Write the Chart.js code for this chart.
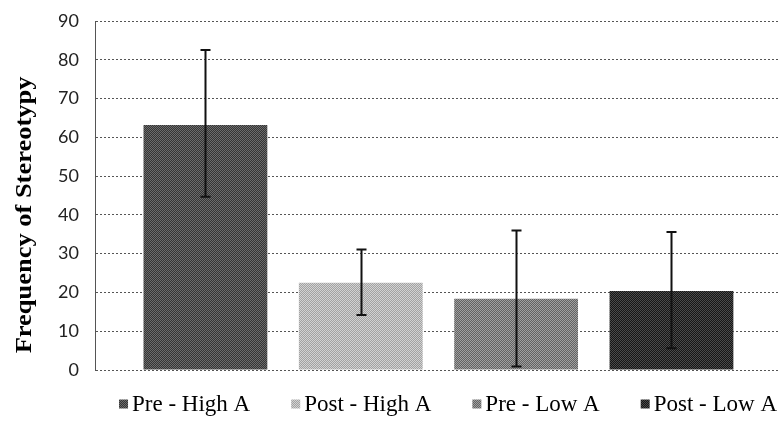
<!DOCTYPE html>
<html>
<head>
<meta charset="utf-8">
<script src="https://cdn.jsdelivr.net/npm/chart.js@4/dist/chart.umd.min.js"></script>
<style>
    html, body { margin: 0; padding: 0; background: #fff; overflow: hidden; }
    #wrap { width: 784px; height: 422px; }
</style>
</head>
<body>
<div id="wrap"><canvas id="barChart" width="784" height="422"></canvas></div>
<script>
const groups = ["Pre - High A", "Post - High A", "Pre - Low A", "Post - Low A"];
const means = [63.2, 22.5, 18.4, 20.4];
const errLow = [44.7, 14.2, 0.9, 5.6];
const errHigh = [82.5, 31.1, 36.0, 35.6];
const yTicks = { min: 0, max: 90, step: 10 };
const yTitle = "Frequency of Stereotypy";

// two-tone checker fill, gives the bars their screened look
function makePattern(dark, light) {
    const c = document.createElement("canvas");
    c.width = 2;
    c.height = 2;
    const g = c.getContext("2d");
    g.fillStyle = dark;
    g.fillRect(0, 0, 2, 2);
    g.fillStyle = light;
    g.fillRect(0, 0, 1, 1);
    g.fillRect(1, 1, 1, 1);
    return g.createPattern(c, "repeat");
}

const fills = [
    makePattern("#353535", "#6c6c6c"),
    makePattern("#a2a2a2", "#d2d2d2"),
    makePattern("#626262", "#a0a0a0"),
    makePattern("#161616", "#4a4a4a")
];

const errorBars = {
    id: "errorBars",
    afterDatasetsDraw(chart) {
        const ctx = chart.ctx;
        const y = chart.scales.y;
        ctx.save();
        ctx.strokeStyle = "#111";
        ctx.lineWidth = 2;
        chart.data.datasets.forEach((ds, i) => {
            const bar = chart.getDatasetMeta(i).data[0];
            const x = Math.round(bar.x) + 0.5;
            const top = y.getPixelForValue(errHigh[i]);
            const bot = y.getPixelForValue(errLow[i]);
            ctx.beginPath();
            ctx.moveTo(x, top);
            ctx.lineTo(x, bot);
            ctx.moveTo(x - 5, top);
            ctx.lineTo(x + 5, top);
            ctx.moveTo(x - 5, bot);
            ctx.lineTo(x + 5, bot);
            ctx.stroke();
        });
        ctx.restore();
    }
};

// vertical axis title, a bit wider-set than the stock title
const axisTitle = {
    id: "axisTitle",
    afterDraw(chart) {
        const ctx = chart.ctx;
        ctx.save();
        ctx.translate(25, 215);
        ctx.rotate(-Math.PI / 2);
        ctx.scale(1.15, 1);
        ctx.font = "bold 23px 'Liberation Serif'";
        ctx.fillStyle = "#000";
        ctx.textAlign = "center";
        ctx.textBaseline = "middle";
        ctx.fillText(yTitle, 0, 0);
        ctx.restore();
    }
};

// legend row under the plot, right aligned
const bottomLegend = {
    id: "bottomLegend",
    afterDraw(chart) {
        const ctx = chart.ctx;
        const box = 9, textGap = 13, itemGap = 41;
        const cy = chart.chartArea.bottom + 34;
        ctx.save();
        ctx.font = "23px 'Liberation Serif'";
        ctx.textBaseline = "middle";
        const widths = groups.map(t => ctx.measureText(t).width);
        const total = widths.reduce((s, w) => s + textGap + w, 0) + itemGap * (groups.length - 1);
        let x = chart.width - 7 - total;
        groups.forEach((t, i) => {
            ctx.fillStyle = fills[i];
            ctx.fillRect(x, cy - box / 2, box, box);
            ctx.fillStyle = "#000";
            ctx.fillText(t, x + textGap, cy + 1);
            x += textGap + widths[i] + itemGap;
        });
        ctx.restore();
    }
};

new Chart(document.getElementById("barChart"), {
    type: "bar",
    data: {
        labels: [""],
        datasets: groups.map((name, i) => ({
            label: name,
            data: [means[i]],
            backgroundColor: fills[i],
            borderWidth: 0,
            categoryPercentage: 0.907,
            barPercentage: 0.797
        }))
    },
    options: {
        responsive: false,
        animation: false,
        layout: { padding: { top: 21, left: 41, right: 3, bottom: 52 } },
        scales: {
            x: { display: false },
            y: {
                min: yTicks.min,
                max: yTicks.max,
                // top/bottom room is set by layout padding alone
                afterFit(scale) {
                    scale.paddingTop = 0;
                    scale.paddingBottom = 0;
                },
                ticks: {
                    stepSize: yTicks.step,
                    color: "#222",
                    padding: 17,
                    font: { family: "Lato", size: 18 }
                },
                grid: {
                    color: "#555",
                    drawTicks: false,
                    lineWidth: 1
                },
                border: { display: true, color: "#555", dash: [2, 2] }
            }
        },
        plugins: {
            legend: { display: false },
            tooltip: { enabled: false }
        }
    },
    plugins: [errorBars, axisTitle, bottomLegend]
});
</script>
</body>
</html>
